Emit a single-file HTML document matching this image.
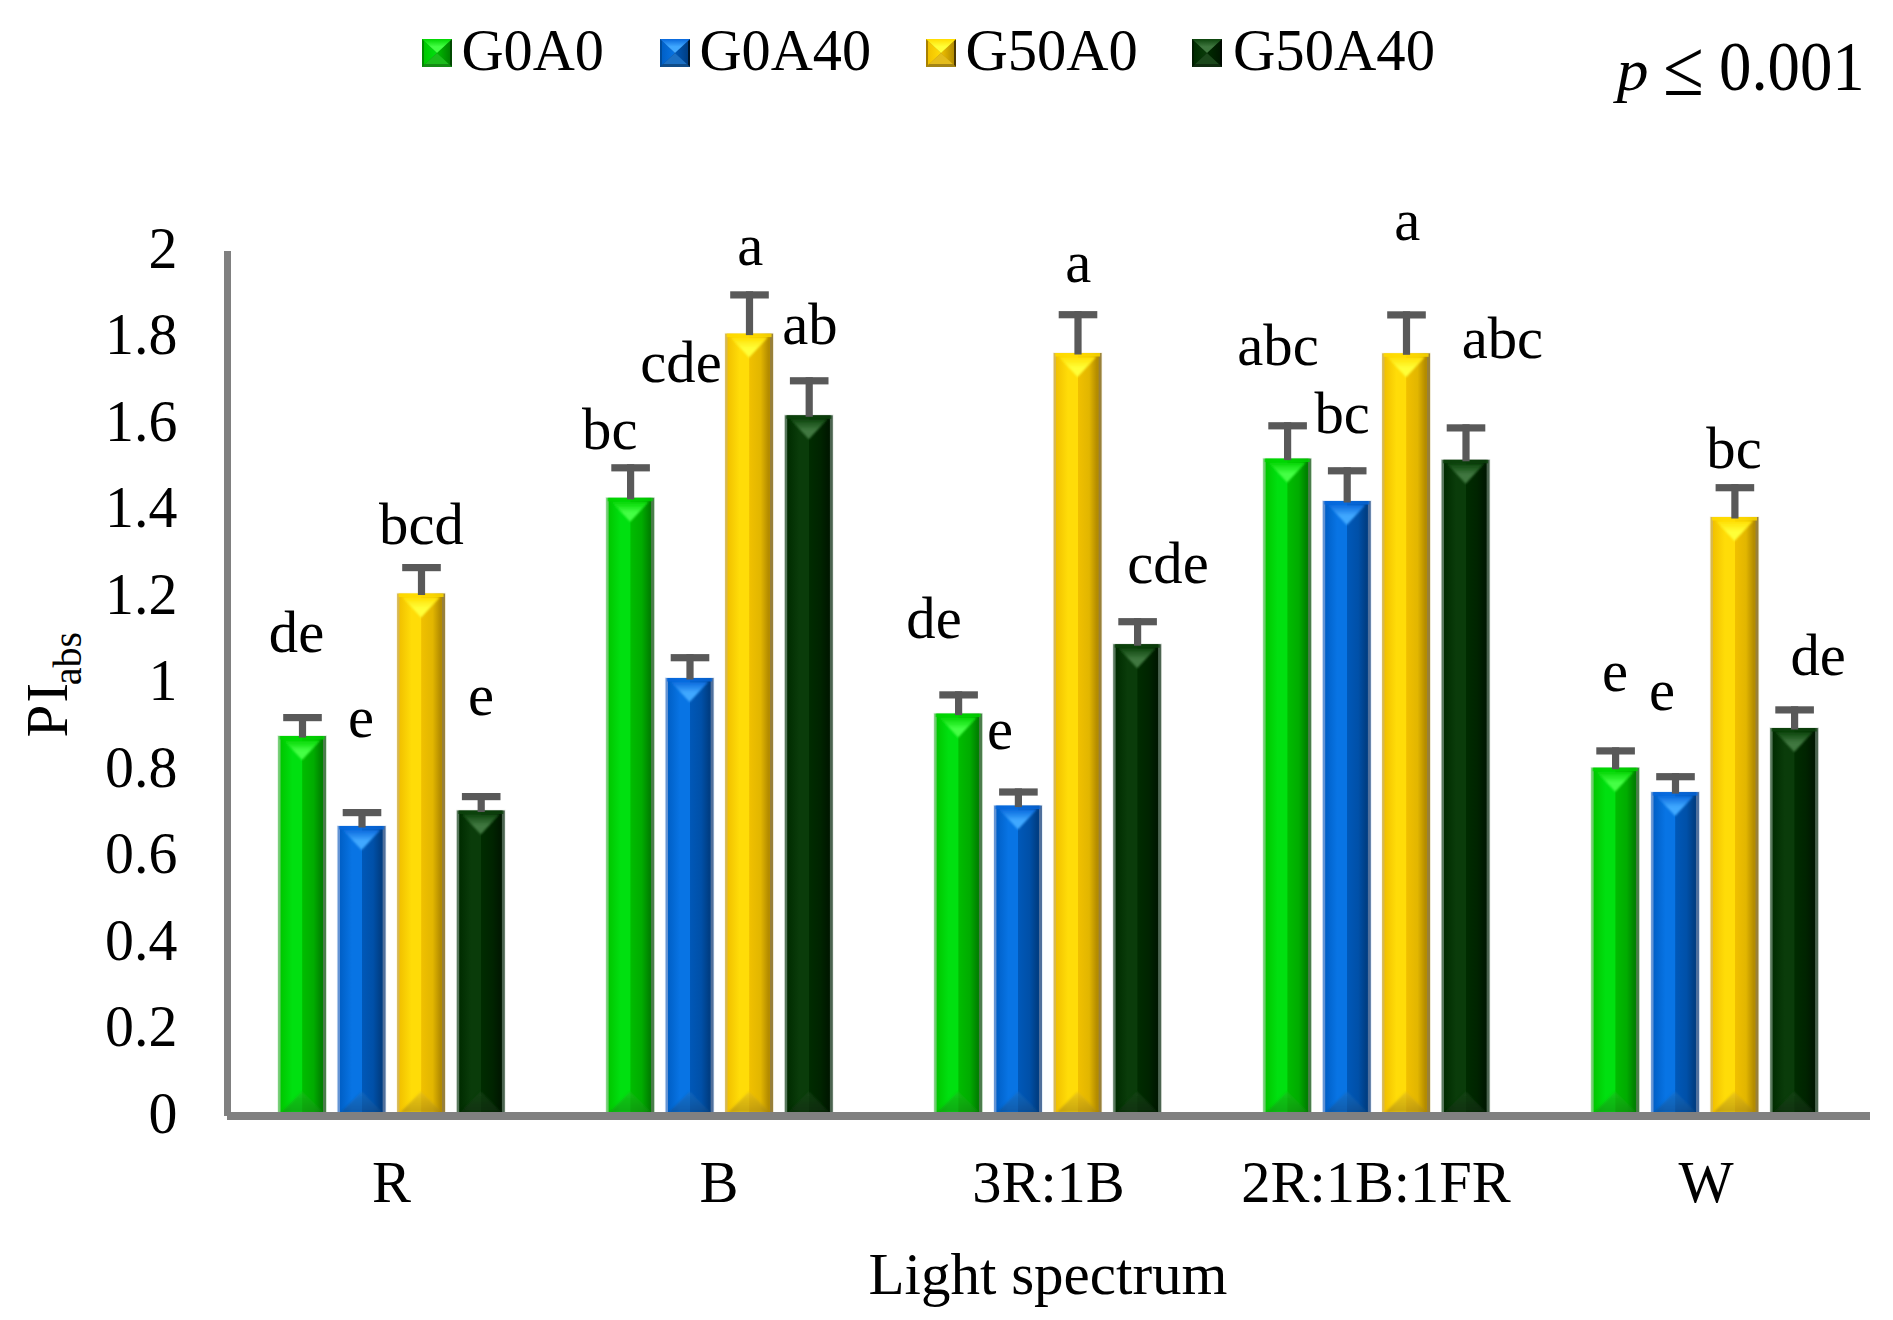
<!DOCTYPE html>
<html><head><meta charset="utf-8"><title>PIabs chart</title>
<style>html,body{margin:0;padding:0;background:#fff}body{width:1893px;height:1320px;overflow:hidden}svg{display:block}</style>
</head><body>
<svg width="1893" height="1320" viewBox="0 0 1893 1320" font-family='"Liberation Serif", "DejaVu Serif", serif' fill="#000">
<defs><filter id="bl" x="-20%" y="-20%" width="140%" height="140%"><feGaussianBlur stdDeviation="1.1"/></filter><linearGradient id="b0" x1="0" y1="0" x2="1" y2="0"><stop offset="0" stop-color="#70cc70"/><stop offset="0.04" stop-color="#70cc70"/><stop offset="0.06" stop-color="#00c800"/><stop offset="0.3" stop-color="#00e010"/><stop offset="0.5" stop-color="#00e010"/><stop offset="0.51" stop-color="#00bc00"/><stop offset="0.74" stop-color="#00ac00"/><stop offset="0.9" stop-color="#008200"/><stop offset="0.93" stop-color="#008200"/><stop offset="0.945" stop-color="#4c7c4c"/><stop offset="1" stop-color="#4c7c4c"/></linearGradient><linearGradient id="t0" x1="0" y1="0" x2="0" y2="1"><stop offset="0" stop-color="#00d400"/><stop offset="0.55" stop-color="#44ff44"/><stop offset="1" stop-color="#44ff44"/></linearGradient><linearGradient id="u0" x1="0" y1="0" x2="0" y2="1"><stop offset="0" stop-color="#1cbc1c"/><stop offset="1" stop-color="#148c14"/></linearGradient><linearGradient id="b1" x1="0" y1="0" x2="1" y2="0"><stop offset="0" stop-color="#6494d4"/><stop offset="0.04" stop-color="#6494d4"/><stop offset="0.06" stop-color="#0060c8"/><stop offset="0.3" stop-color="#0874e4"/><stop offset="0.5" stop-color="#0874e4"/><stop offset="0.51" stop-color="#0058b8"/><stop offset="0.74" stop-color="#0050a8"/><stop offset="0.9" stop-color="#003e84"/><stop offset="0.93" stop-color="#003e84"/><stop offset="0.945" stop-color="#50709c"/><stop offset="1" stop-color="#50709c"/></linearGradient><linearGradient id="t1" x1="0" y1="0" x2="0" y2="1"><stop offset="0" stop-color="#0868dc"/><stop offset="0.55" stop-color="#40a8ff"/><stop offset="1" stop-color="#40a8ff"/></linearGradient><linearGradient id="u1" x1="0" y1="0" x2="0" y2="1"><stop offset="0" stop-color="#1c70c4"/><stop offset="1" stop-color="#104c88"/></linearGradient><linearGradient id="b2" x1="0" y1="0" x2="1" y2="0"><stop offset="0" stop-color="#d8b850"/><stop offset="0.04" stop-color="#d8b850"/><stop offset="0.06" stop-color="#f2c200"/><stop offset="0.3" stop-color="#ffdc08"/><stop offset="0.5" stop-color="#ffdc08"/><stop offset="0.51" stop-color="#f0c000"/><stop offset="0.74" stop-color="#e2b600"/><stop offset="0.9" stop-color="#b48c00"/><stop offset="0.93" stop-color="#b48c00"/><stop offset="0.945" stop-color="#98803a"/><stop offset="1" stop-color="#98803a"/></linearGradient><linearGradient id="t2" x1="0" y1="0" x2="0" y2="1"><stop offset="0" stop-color="#ffdc00"/><stop offset="0.55" stop-color="#ffff38"/><stop offset="1" stop-color="#ffff38"/></linearGradient><linearGradient id="u2" x1="0" y1="0" x2="0" y2="1"><stop offset="0" stop-color="#e4bc1c"/><stop offset="1" stop-color="#a48414"/></linearGradient><linearGradient id="b3" x1="0" y1="0" x2="1" y2="0"><stop offset="0" stop-color="#58785c"/><stop offset="0.04" stop-color="#58785c"/><stop offset="0.06" stop-color="#002c00"/><stop offset="0.3" stop-color="#0a3c0a"/><stop offset="0.5" stop-color="#0a3c0a"/><stop offset="0.51" stop-color="#002c00"/><stop offset="0.74" stop-color="#002400"/><stop offset="0.9" stop-color="#001800"/><stop offset="0.93" stop-color="#001800"/><stop offset="0.945" stop-color="#4c6450"/><stop offset="1" stop-color="#4c6450"/></linearGradient><linearGradient id="t3" x1="0" y1="0" x2="0" y2="1"><stop offset="0" stop-color="#0c440c"/><stop offset="0.55" stop-color="#3f773f"/><stop offset="1" stop-color="#3f773f"/></linearGradient><linearGradient id="u3" x1="0" y1="0" x2="0" y2="1"><stop offset="0" stop-color="#1c481c"/><stop offset="1" stop-color="#102c10"/></linearGradient><linearGradient id="lL0" x1="0" y1="0" x2="1" y2="0"><stop offset="0" stop-color="#008c00"/><stop offset="0.12" stop-color="#008c00"/><stop offset="0.14" stop-color="#00c800"/><stop offset="1" stop-color="#00e010"/></linearGradient><linearGradient id="lR0" x1="0" y1="0" x2="1" y2="0"><stop offset="0" stop-color="#00bc00"/><stop offset="0.86" stop-color="#008200"/><stop offset="0.88" stop-color="#004800"/><stop offset="1" stop-color="#004800"/></linearGradient><linearGradient id="lB0" x1="0" y1="0" x2="0" y2="1"><stop offset="0" stop-color="#1cbc1c"/><stop offset="0.8" stop-color="#1cbc1c"/><stop offset="0.82" stop-color="#148c14"/><stop offset="1" stop-color="#148c14"/></linearGradient><linearGradient id="lL1" x1="0" y1="0" x2="1" y2="0"><stop offset="0" stop-color="#004c9c"/><stop offset="0.12" stop-color="#004c9c"/><stop offset="0.14" stop-color="#0060c8"/><stop offset="1" stop-color="#0874e4"/></linearGradient><linearGradient id="lR1" x1="0" y1="0" x2="1" y2="0"><stop offset="0" stop-color="#0058b8"/><stop offset="0.86" stop-color="#003e84"/><stop offset="0.88" stop-color="#001428"/><stop offset="1" stop-color="#001428"/></linearGradient><linearGradient id="lB1" x1="0" y1="0" x2="0" y2="1"><stop offset="0" stop-color="#1c70c4"/><stop offset="0.8" stop-color="#1c70c4"/><stop offset="0.82" stop-color="#104c88"/><stop offset="1" stop-color="#104c88"/></linearGradient><linearGradient id="lL2" x1="0" y1="0" x2="1" y2="0"><stop offset="0" stop-color="#a88000"/><stop offset="0.12" stop-color="#a88000"/><stop offset="0.14" stop-color="#f2c200"/><stop offset="1" stop-color="#ffdc08"/></linearGradient><linearGradient id="lR2" x1="0" y1="0" x2="1" y2="0"><stop offset="0" stop-color="#f0c000"/><stop offset="0.86" stop-color="#b48c00"/><stop offset="0.88" stop-color="#4c3800"/><stop offset="1" stop-color="#4c3800"/></linearGradient><linearGradient id="lB2" x1="0" y1="0" x2="0" y2="1"><stop offset="0" stop-color="#e4bc1c"/><stop offset="0.8" stop-color="#e4bc1c"/><stop offset="0.82" stop-color="#a48414"/><stop offset="1" stop-color="#a48414"/></linearGradient><linearGradient id="lL3" x1="0" y1="0" x2="1" y2="0"><stop offset="0" stop-color="#001c00"/><stop offset="0.12" stop-color="#001c00"/><stop offset="0.14" stop-color="#002c00"/><stop offset="1" stop-color="#0a3c0a"/></linearGradient><linearGradient id="lR3" x1="0" y1="0" x2="1" y2="0"><stop offset="0" stop-color="#002c00"/><stop offset="0.86" stop-color="#001800"/><stop offset="0.88" stop-color="#000800"/><stop offset="1" stop-color="#000800"/></linearGradient><linearGradient id="lB3" x1="0" y1="0" x2="0" y2="1"><stop offset="0" stop-color="#1c481c"/><stop offset="0.8" stop-color="#1c481c"/><stop offset="0.82" stop-color="#102c10"/><stop offset="1" stop-color="#102c10"/></linearGradient></defs>
<rect width="1893" height="1320" fill="#fff"/>
<rect x="277.4" y="735.3" width="49.4" height="377.2" fill="#8fd88f" opacity="0.35"/>
<rect x="278.1" y="736" width="48" height="376.5" fill="url(#b0)"/>
<polygon points="283.1,739.5 321.1,739.5 302.1,760" fill="url(#t0)" filter="url(#bl)"/>
<rect x="279.6" y="736" width="45" height="3.5" fill="#00d400" opacity="0.8"/>
<polygon points="281.1,1112.5 323.1,1112.5 302.1,1091.5" fill="url(#u0)" opacity="0.6" filter="url(#bl)"/>
<rect x="298.9" y="714" width="7.2" height="23.5" fill="#595959"/>
<rect x="283.2" y="714" width="38.6" height="7.2" fill="#595959"/>
<rect x="336.9" y="825.3" width="49.4" height="287.2" fill="#9cc0ec" opacity="0.35"/>
<rect x="337.6" y="826" width="48" height="286.5" fill="url(#b1)"/>
<polygon points="342.6,829.5 380.6,829.5 361.6,850" fill="url(#t1)" filter="url(#bl)"/>
<rect x="339.1" y="826" width="45" height="3.5" fill="#0868dc" opacity="0.8"/>
<polygon points="340.6,1112.5 382.6,1112.5 361.6,1091.5" fill="url(#u1)" opacity="0.6" filter="url(#bl)"/>
<rect x="358.4" y="809" width="7.2" height="18.5" fill="#595959"/>
<rect x="342.7" y="809" width="38.6" height="7.2" fill="#595959"/>
<rect x="396.4" y="592.8" width="49.4" height="519.7" fill="#efe0a8" opacity="0.35"/>
<rect x="397.1" y="593.5" width="48" height="519" fill="url(#b2)"/>
<polygon points="402.1,597 440.1,597 421.1,617.5" fill="url(#t2)" filter="url(#bl)"/>
<rect x="398.6" y="593.5" width="45" height="3.5" fill="#ffdc00" opacity="0.8"/>
<polygon points="400.1,1112.5 442.1,1112.5 421.1,1091.5" fill="url(#u2)" opacity="0.6" filter="url(#bl)"/>
<rect x="417.9" y="564" width="7.2" height="31" fill="#595959"/>
<rect x="402.2" y="564" width="38.6" height="7.2" fill="#595959"/>
<rect x="456.1" y="809.8" width="49.4" height="302.7" fill="#a8b8a8" opacity="0.35"/>
<rect x="456.8" y="810.5" width="48" height="302" fill="url(#b3)"/>
<polygon points="461.8,814 499.8,814 480.8,834.5" fill="url(#t3)" filter="url(#bl)"/>
<rect x="458.3" y="810.5" width="45" height="3.5" fill="#0c440c" opacity="0.8"/>
<polygon points="459.8,1112.5 501.8,1112.5 480.8,1091.5" fill="url(#u3)" opacity="0.6" filter="url(#bl)"/>
<rect x="477.6" y="793" width="7.2" height="19" fill="#595959"/>
<rect x="461.9" y="793" width="38.6" height="7.2" fill="#595959"/>
<rect x="605.5" y="497.1" width="49.4" height="615.4" fill="#8fd88f" opacity="0.35"/>
<rect x="606.2" y="497.8" width="48" height="614.7" fill="url(#b0)"/>
<polygon points="611.2,501.3 649.2,501.3 630.2,521.8" fill="url(#t0)" filter="url(#bl)"/>
<rect x="607.7" y="497.8" width="45" height="3.5" fill="#00d400" opacity="0.8"/>
<polygon points="609.2,1112.5 651.2,1112.5 630.2,1091.5" fill="url(#u0)" opacity="0.6" filter="url(#bl)"/>
<rect x="627" y="464.2" width="7.2" height="35.1" fill="#595959"/>
<rect x="611.3" y="464.2" width="38.6" height="7.2" fill="#595959"/>
<rect x="664.9" y="677.3" width="49.4" height="435.2" fill="#9cc0ec" opacity="0.35"/>
<rect x="665.6" y="678" width="48" height="434.5" fill="url(#b1)"/>
<polygon points="670.6,681.5 708.6,681.5 689.6,702" fill="url(#t1)" filter="url(#bl)"/>
<rect x="667.1" y="678" width="45" height="3.5" fill="#0868dc" opacity="0.8"/>
<polygon points="668.6,1112.5 710.6,1112.5 689.6,1091.5" fill="url(#u1)" opacity="0.6" filter="url(#bl)"/>
<rect x="686.4" y="654.1" width="7.2" height="25.4" fill="#595959"/>
<rect x="670.7" y="654.1" width="38.6" height="7.2" fill="#595959"/>
<rect x="724.4" y="332.9" width="49.4" height="779.6" fill="#efe0a8" opacity="0.35"/>
<rect x="725.1" y="333.6" width="48" height="778.9" fill="url(#b2)"/>
<polygon points="730.1,337.1 768.1,337.1 749.1,357.6" fill="url(#t2)" filter="url(#bl)"/>
<rect x="726.6" y="333.6" width="45" height="3.5" fill="#ffdc00" opacity="0.8"/>
<polygon points="728.1,1112.5 770.1,1112.5 749.1,1091.5" fill="url(#u2)" opacity="0.6" filter="url(#bl)"/>
<rect x="745.9" y="291.3" width="7.2" height="43.8" fill="#595959"/>
<rect x="730.2" y="291.3" width="38.6" height="7.2" fill="#595959"/>
<rect x="784.1" y="414.6" width="49.4" height="697.9" fill="#a8b8a8" opacity="0.35"/>
<rect x="784.8" y="415.3" width="48" height="697.2" fill="url(#b3)"/>
<polygon points="789.8,418.8 827.8,418.8 808.8,439.3" fill="url(#t3)" filter="url(#bl)"/>
<rect x="786.3" y="415.3" width="45" height="3.5" fill="#0c440c" opacity="0.8"/>
<polygon points="787.8,1112.5 829.8,1112.5 808.8,1091.5" fill="url(#u3)" opacity="0.6" filter="url(#bl)"/>
<rect x="805.6" y="377.2" width="7.2" height="39.6" fill="#595959"/>
<rect x="789.9" y="377.2" width="38.6" height="7.2" fill="#595959"/>
<rect x="933.5" y="712.9" width="49.4" height="399.6" fill="#8fd88f" opacity="0.35"/>
<rect x="934.2" y="713.6" width="48" height="398.9" fill="url(#b0)"/>
<polygon points="939.2,717.1 977.2,717.1 958.2,737.6" fill="url(#t0)" filter="url(#bl)"/>
<rect x="935.7" y="713.6" width="45" height="3.5" fill="#00d400" opacity="0.8"/>
<polygon points="937.2,1112.5 979.2,1112.5 958.2,1091.5" fill="url(#u0)" opacity="0.6" filter="url(#bl)"/>
<rect x="955" y="691.3" width="7.2" height="23.8" fill="#595959"/>
<rect x="939.3" y="691.3" width="38.6" height="7.2" fill="#595959"/>
<rect x="993.3" y="804.9" width="49.4" height="307.6" fill="#9cc0ec" opacity="0.35"/>
<rect x="994" y="805.6" width="48" height="306.9" fill="url(#b1)"/>
<polygon points="999,809.1 1037,809.1 1018,829.6" fill="url(#t1)" filter="url(#bl)"/>
<rect x="995.5" y="805.6" width="45" height="3.5" fill="#0868dc" opacity="0.8"/>
<polygon points="997,1112.5 1039,1112.5 1018,1091.5" fill="url(#u1)" opacity="0.6" filter="url(#bl)"/>
<rect x="1014.8" y="788.4" width="7.2" height="18.7" fill="#595959"/>
<rect x="999.1" y="788.4" width="38.6" height="7.2" fill="#595959"/>
<rect x="1052.9" y="352.3" width="49.4" height="760.2" fill="#efe0a8" opacity="0.35"/>
<rect x="1053.6" y="353" width="48" height="759.5" fill="url(#b2)"/>
<polygon points="1058.6,356.5 1096.6,356.5 1077.6,377" fill="url(#t2)" filter="url(#bl)"/>
<rect x="1055.1" y="353" width="45" height="3.5" fill="#ffdc00" opacity="0.8"/>
<polygon points="1056.6,1112.5 1098.6,1112.5 1077.6,1091.5" fill="url(#u2)" opacity="0.6" filter="url(#bl)"/>
<rect x="1074.4" y="311.1" width="7.2" height="43.4" fill="#595959"/>
<rect x="1058.7" y="311.1" width="38.6" height="7.2" fill="#595959"/>
<rect x="1112.5" y="643.5" width="49.4" height="469" fill="#a8b8a8" opacity="0.35"/>
<rect x="1113.2" y="644.2" width="48" height="468.3" fill="url(#b3)"/>
<polygon points="1118.2,647.7 1156.2,647.7 1137.2,668.2" fill="url(#t3)" filter="url(#bl)"/>
<rect x="1114.7" y="644.2" width="45" height="3.5" fill="#0c440c" opacity="0.8"/>
<polygon points="1116.2,1112.5 1158.2,1112.5 1137.2,1091.5" fill="url(#u3)" opacity="0.6" filter="url(#bl)"/>
<rect x="1134" y="618.1" width="7.2" height="27.6" fill="#595959"/>
<rect x="1118.3" y="618.1" width="38.6" height="7.2" fill="#595959"/>
<rect x="1262.5" y="457.9" width="49.4" height="654.6" fill="#8fd88f" opacity="0.35"/>
<rect x="1263.2" y="458.6" width="48" height="653.9" fill="url(#b0)"/>
<polygon points="1268.2,462.1 1306.2,462.1 1287.2,482.6" fill="url(#t0)" filter="url(#bl)"/>
<rect x="1264.7" y="458.6" width="45" height="3.5" fill="#00d400" opacity="0.8"/>
<polygon points="1266.2,1112.5 1308.2,1112.5 1287.2,1091.5" fill="url(#u0)" opacity="0.6" filter="url(#bl)"/>
<rect x="1284" y="422.2" width="7.2" height="37.9" fill="#595959"/>
<rect x="1268.3" y="422.2" width="38.6" height="7.2" fill="#595959"/>
<rect x="1322.1" y="500.3" width="49.4" height="612.2" fill="#9cc0ec" opacity="0.35"/>
<rect x="1322.8" y="501" width="48" height="611.5" fill="url(#b1)"/>
<polygon points="1327.8,504.5 1365.8,504.5 1346.8,525" fill="url(#t1)" filter="url(#bl)"/>
<rect x="1324.3" y="501" width="45" height="3.5" fill="#0868dc" opacity="0.8"/>
<polygon points="1325.8,1112.5 1367.8,1112.5 1346.8,1091.5" fill="url(#u1)" opacity="0.6" filter="url(#bl)"/>
<rect x="1343.6" y="467.2" width="7.2" height="35.3" fill="#595959"/>
<rect x="1327.9" y="467.2" width="38.6" height="7.2" fill="#595959"/>
<rect x="1381.4" y="352.6" width="49.4" height="759.9" fill="#efe0a8" opacity="0.35"/>
<rect x="1382.1" y="353.3" width="48" height="759.2" fill="url(#b2)"/>
<polygon points="1387.1,356.8 1425.1,356.8 1406.1,377.3" fill="url(#t2)" filter="url(#bl)"/>
<rect x="1383.6" y="353.3" width="45" height="3.5" fill="#ffdc00" opacity="0.8"/>
<polygon points="1385.1,1112.5 1427.1,1112.5 1406.1,1091.5" fill="url(#u2)" opacity="0.6" filter="url(#bl)"/>
<rect x="1402.9" y="311.3" width="7.2" height="43.5" fill="#595959"/>
<rect x="1387.2" y="311.3" width="38.6" height="7.2" fill="#595959"/>
<rect x="1440.9" y="459.1" width="49.4" height="653.4" fill="#a8b8a8" opacity="0.35"/>
<rect x="1441.6" y="459.8" width="48" height="652.7" fill="url(#b3)"/>
<polygon points="1446.6,463.3 1484.6,463.3 1465.6,483.8" fill="url(#t3)" filter="url(#bl)"/>
<rect x="1443.1" y="459.8" width="45" height="3.5" fill="#0c440c" opacity="0.8"/>
<polygon points="1444.6,1112.5 1486.6,1112.5 1465.6,1091.5" fill="url(#u3)" opacity="0.6" filter="url(#bl)"/>
<rect x="1462.4" y="424.3" width="7.2" height="37" fill="#595959"/>
<rect x="1446.7" y="424.3" width="38.6" height="7.2" fill="#595959"/>
<rect x="1590.5" y="767" width="49.4" height="345.5" fill="#8fd88f" opacity="0.35"/>
<rect x="1591.2" y="767.7" width="48" height="344.8" fill="url(#b0)"/>
<polygon points="1596.2,771.2 1634.2,771.2 1615.2,791.7" fill="url(#t0)" filter="url(#bl)"/>
<rect x="1592.7" y="767.7" width="45" height="3.5" fill="#00d400" opacity="0.8"/>
<polygon points="1594.2,1112.5 1636.2,1112.5 1615.2,1091.5" fill="url(#u0)" opacity="0.6" filter="url(#bl)"/>
<rect x="1612" y="747.3" width="7.2" height="21.9" fill="#595959"/>
<rect x="1596.3" y="747.3" width="38.6" height="7.2" fill="#595959"/>
<rect x="1650.4" y="791.4" width="49.4" height="321.1" fill="#9cc0ec" opacity="0.35"/>
<rect x="1651.1" y="792.1" width="48" height="320.4" fill="url(#b1)"/>
<polygon points="1656.1,795.6 1694.1,795.6 1675.1,816.1" fill="url(#t1)" filter="url(#bl)"/>
<rect x="1652.6" y="792.1" width="45" height="3.5" fill="#0868dc" opacity="0.8"/>
<polygon points="1654.1,1112.5 1696.1,1112.5 1675.1,1091.5" fill="url(#u1)" opacity="0.6" filter="url(#bl)"/>
<rect x="1671.9" y="773.1" width="7.2" height="20.5" fill="#595959"/>
<rect x="1656.2" y="773.1" width="38.6" height="7.2" fill="#595959"/>
<rect x="1709.8" y="516.3" width="49.4" height="596.2" fill="#efe0a8" opacity="0.35"/>
<rect x="1710.5" y="517" width="48" height="595.5" fill="url(#b2)"/>
<polygon points="1715.5,520.5 1753.5,520.5 1734.5,541" fill="url(#t2)" filter="url(#bl)"/>
<rect x="1712" y="517" width="45" height="3.5" fill="#ffdc00" opacity="0.8"/>
<polygon points="1713.5,1112.5 1755.5,1112.5 1734.5,1091.5" fill="url(#u2)" opacity="0.6" filter="url(#bl)"/>
<rect x="1731.3" y="484.1" width="7.2" height="34.4" fill="#595959"/>
<rect x="1715.6" y="484.1" width="38.6" height="7.2" fill="#595959"/>
<rect x="1769.5" y="727.3" width="49.4" height="385.2" fill="#a8b8a8" opacity="0.35"/>
<rect x="1770.2" y="728" width="48" height="384.5" fill="url(#b3)"/>
<polygon points="1775.2,731.5 1813.2,731.5 1794.2,752" fill="url(#t3)" filter="url(#bl)"/>
<rect x="1771.7" y="728" width="45" height="3.5" fill="#0c440c" opacity="0.8"/>
<polygon points="1773.2,1112.5 1815.2,1112.5 1794.2,1091.5" fill="url(#u3)" opacity="0.6" filter="url(#bl)"/>
<rect x="1791" y="706.3" width="7.2" height="23.2" fill="#595959"/>
<rect x="1775.3" y="706.3" width="38.6" height="7.2" fill="#595959"/>
<rect x="224" y="251" width="7" height="865" fill="#808080"/>
<rect x="227" y="1112" width="1643" height="8" fill="#808080"/>
<text transform="translate(177.3,1132.9) scale(0.98,1)" font-size="59" text-anchor="end">0</text>
<text transform="translate(177.3,1046.4) scale(0.98,1)" font-size="59" text-anchor="end">0.2</text>
<text transform="translate(177.3,959.9) scale(0.98,1)" font-size="59" text-anchor="end">0.4</text>
<text transform="translate(177.3,873.4) scale(0.98,1)" font-size="59" text-anchor="end">0.6</text>
<text transform="translate(177.3,786.9) scale(0.98,1)" font-size="59" text-anchor="end">0.8</text>
<text transform="translate(177.3,700.4) scale(0.98,1)" font-size="59" text-anchor="end">1</text>
<text transform="translate(177.3,613.9) scale(0.98,1)" font-size="59" text-anchor="end">1.2</text>
<text transform="translate(177.3,527.4) scale(0.98,1)" font-size="59" text-anchor="end">1.4</text>
<text transform="translate(177.3,440.9) scale(0.98,1)" font-size="59" text-anchor="end">1.6</text>
<text transform="translate(177.3,354.4) scale(0.98,1)" font-size="59" text-anchor="end">1.8</text>
<text transform="translate(177.3,267.9) scale(0.98,1)" font-size="59" text-anchor="end">2</text>
<text transform="translate(391.4,1201.5) scale(0.99,1)" font-size="59" text-anchor="middle">R</text>
<text transform="translate(719.0,1201.5) scale(0.99,1)" font-size="59" text-anchor="middle">B</text>
<text transform="translate(1048.5,1201.5) scale(0.99,1)" font-size="59" text-anchor="middle">3R:1B</text>
<text transform="translate(1376.0,1201.5) scale(0.99,1)" font-size="59" text-anchor="middle">2R:1B:1FR</text>
<text transform="translate(1706.0,1201.5) scale(0.99,1)" font-size="59" text-anchor="middle">W</text>
<text x="1048" y="1294" font-size="59" text-anchor="middle">Light spectrum</text>
<text transform="translate(67,737.6) rotate(-90)" font-size="59">P<tspan dx="2.2">I</tspan><tspan font-size="40" dx="-2.3" dy="13.5">abs</tspan></text>
<rect x="422" y="39" width="30" height="28" fill="#008200"/>
<polygon points="422,39 437,53 422,67" fill="url(#lL0)"/>
<polygon points="452,39 437,53 452,67" fill="url(#lR0)"/>
<polygon points="422,39 452,39 437,53" fill="url(#t0)"/>
<polygon points="422,67 452,67 437,53" fill="url(#lB0)"/>
<text transform="translate(461.5,70) scale(0.988,1.01)" font-size="59">G0A0</text>
<rect x="660" y="39" width="30" height="28" fill="#003e84"/>
<polygon points="660,39 675,53 660,67" fill="url(#lL1)"/>
<polygon points="690,39 675,53 690,67" fill="url(#lR1)"/>
<polygon points="660,39 690,39 675,53" fill="url(#t1)"/>
<polygon points="660,67 690,67 675,53" fill="url(#lB1)"/>
<text transform="translate(699.5,70) scale(0.988,1.01)" font-size="59">G0A40</text>
<rect x="926" y="39" width="30" height="28" fill="#b48c00"/>
<polygon points="926,39 941,53 926,67" fill="url(#lL2)"/>
<polygon points="956,39 941,53 956,67" fill="url(#lR2)"/>
<polygon points="926,39 956,39 941,53" fill="url(#t2)"/>
<polygon points="926,67 956,67 941,53" fill="url(#lB2)"/>
<text transform="translate(965.5,70) scale(0.992,1.01)" font-size="59">G50A0</text>
<rect x="1192" y="39" width="30" height="28" fill="#001800"/>
<polygon points="1192,39 1207,53 1192,67" fill="url(#lL3)"/>
<polygon points="1222,39 1207,53 1222,67" fill="url(#lR3)"/>
<polygon points="1192,39 1222,39 1207,53" fill="url(#t3)"/>
<polygon points="1192,67 1222,67 1207,53" fill="url(#lB3)"/>
<text transform="translate(1233,70) scale(0.994,1.01)" font-size="59">G50A40</text>
<text transform="translate(1616.8,90) scale(1.06,1)" font-size="60" font-style="italic">p</text>
<text transform="translate(1663.3,95) scale(0.93,1)" font-size="80">≤</text>
<text transform="translate(1719,90) scale(0.915,1)" font-size="70.8">0.001</text>
<text transform="translate(296.5,652.4) scale(0.995,1)" font-size="59" text-anchor="middle">de</text>
<text transform="translate(361,736.8) scale(0.995,1)" font-size="59" text-anchor="middle">e</text>
<text transform="translate(421.5,544) scale(0.995,1)" font-size="59" text-anchor="middle">bcd</text>
<text transform="translate(481,714.6) scale(0.995,1)" font-size="59" text-anchor="middle">e</text>
<text transform="translate(609.8,448.5) scale(0.995,1)" font-size="59" text-anchor="middle">bc</text>
<text transform="translate(681,381.6) scale(0.995,1)" font-size="59" text-anchor="middle">cde</text>
<text transform="translate(750.2,265.4) scale(0.995,1)" font-size="59" text-anchor="middle">a</text>
<text transform="translate(809.9,343.9) scale(0.995,1)" font-size="59" text-anchor="middle">ab</text>
<text transform="translate(934,637.6) scale(0.995,1)" font-size="59" text-anchor="middle">de</text>
<text transform="translate(1000,748.6) scale(0.995,1)" font-size="59" text-anchor="middle">e</text>
<text transform="translate(1078.4,282) scale(0.995,1)" font-size="59" text-anchor="middle">a</text>
<text transform="translate(1168,583.4) scale(0.995,1)" font-size="59" text-anchor="middle">cde</text>
<text transform="translate(1278,364.8) scale(0.995,1)" font-size="59" text-anchor="middle">abc</text>
<text transform="translate(1342.2,432.5) scale(0.995,1)" font-size="59" text-anchor="middle">bc</text>
<text transform="translate(1407.3,239.9) scale(0.995,1)" font-size="59" text-anchor="middle">a</text>
<text transform="translate(1502.4,357.9) scale(0.995,1)" font-size="59" text-anchor="middle">abc</text>
<text transform="translate(1615,690.8) scale(0.995,1)" font-size="59" text-anchor="middle">e</text>
<text transform="translate(1662.1,709.5) scale(0.995,1)" font-size="59" text-anchor="middle">e</text>
<text transform="translate(1734,467.7) scale(0.995,1)" font-size="59" text-anchor="middle">bc</text>
<text transform="translate(1818.1,674.8) scale(0.995,1)" font-size="59" text-anchor="middle">de</text>
</svg>
</body></html>
